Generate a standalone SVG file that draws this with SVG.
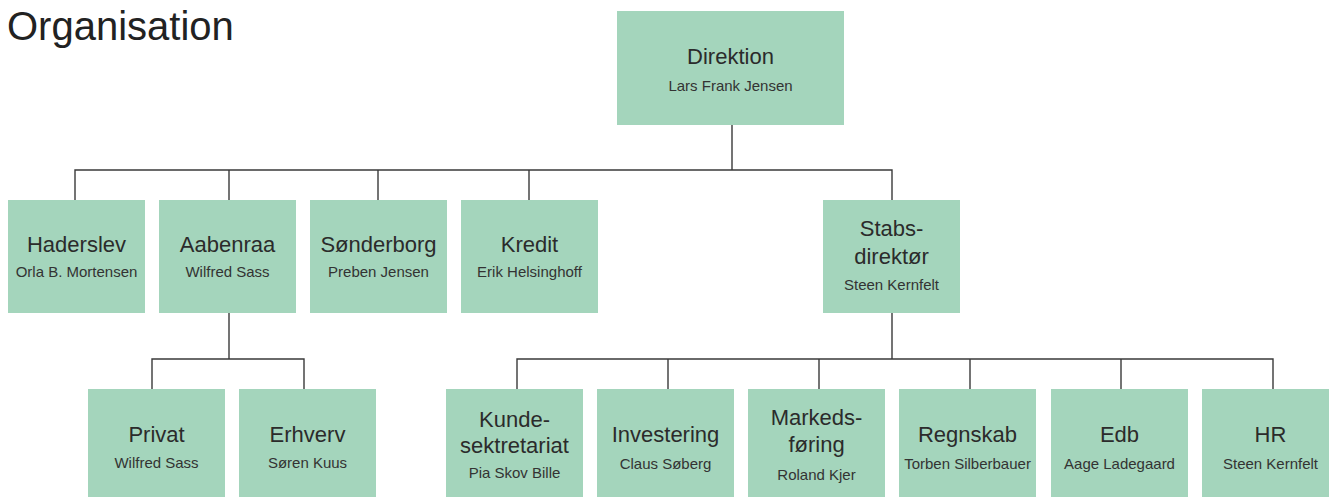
<svg xmlns="http://www.w3.org/2000/svg" width="1329" height="497" viewBox="0 0 1329 497">
<style>
.box{fill:#a4d5bc}
.t{font-family:"Liberation Sans",Arial,sans-serif;font-size:22px;fill:#2b2b2b;text-anchor:middle}
.s{font-family:"Liberation Sans",Arial,sans-serif;font-size:15px;fill:#333;text-anchor:middle}
.title{font-family:"Liberation Sans",Arial,sans-serif;font-size:40px;fill:#222}
.c{fill:none;stroke:#3a3a3a;stroke-width:1.4}
</style>
<rect width="1329" height="497" fill="#fff"/>
<text class="title" x="7" y="40">Organisation</text>
<g id="connectors">
<path class="c" d="M732 125V170M75 200V170H892V200M229 170V200M378 170V200M529 170V200"/>
<path class="c" d="M229 313V359M152 389V359H304V389"/>
<path class="c" d="M892 313V359M517 389V359H1273V389M668 359V389M819 359V389M970 359V389M1121 359V389"/>
</g>
<g id="direktion"><rect class="box" x="617" y="11" width="227" height="114"/><text class="t" x="730.5" y="64">Direktion</text><text class="s" x="730.5" y="91">Lars Frank Jensen</text></g>
<g id="haderslev"><rect class="box" x="8" y="200" width="137" height="113"/><text class="t" x="76.5" y="252">Haderslev</text><text class="s" x="76.5" y="277">Orla B. Mortensen</text></g>
<g id="aabenraa"><rect class="box" x="159" y="200" width="137" height="113"/><text class="t" x="227.5" y="252">Aabenraa</text><text class="s" x="227.5" y="277">Wilfred Sass</text></g>
<g id="sonderborg"><rect class="box" x="310" y="200" width="137" height="113"/><text class="t" x="378.5" y="252">Sønderborg</text><text class="s" x="378.5" y="277">Preben Jensen</text></g>
<g id="kredit"><rect class="box" x="461" y="200" width="137" height="113"/><text class="t" x="529.5" y="252">Kredit</text><text class="s" x="529.5" y="277">Erik Helsinghoff</text></g>
<g id="stabsdirektor"><rect class="box" x="823" y="200" width="137" height="113"/><text class="t" x="891.5" y="236">Stabs-</text><text class="t" x="891.5" y="264">direktør</text><text class="s" x="891.5" y="290">Steen Kernfelt</text></g>
<g id="privat"><rect class="box" x="88" y="389" width="137" height="113"/><text class="t" x="156.5" y="442">Privat</text><text class="s" x="156.5" y="468">Wilfred Sass</text></g>
<g id="erhverv"><rect class="box" x="239" y="389" width="137" height="113"/><text class="t" x="307.5" y="442">Erhverv</text><text class="s" x="307.5" y="468">Søren Kuus</text></g>
<g id="kundesekretariat"><rect class="box" x="446" y="389" width="137" height="113"/><text class="t" x="514.5" y="427">Kunde-</text><text class="t" x="514.5" y="453">sektretariat</text><text class="s" x="514.5" y="478">Pia Skov Bille</text></g>
<g id="investering"><rect class="box" x="597" y="389" width="137" height="113"/><text class="t" x="665.5" y="442">Investering</text><text class="s" x="665.5" y="469">Claus Søberg</text></g>
<g id="markedsforing"><rect class="box" x="748" y="389" width="137" height="113"/><text class="t" x="816.5" y="425">Markeds-</text><text class="t" x="816.5" y="452">føring</text><text class="s" x="816.5" y="480">Roland Kjer</text></g>
<g id="regnskab"><rect class="box" x="899" y="389" width="137" height="113"/><text class="t" x="967.5" y="442">Regnskab</text><text class="s" x="967.5" y="469">Torben Silberbauer</text></g>
<g id="edb"><rect class="box" x="1051" y="389" width="137" height="113"/><text class="t" x="1119.5" y="442">Edb</text><text class="s" x="1119.5" y="469">Aage Ladegaard</text></g>
<g id="hr"><rect class="box" x="1202" y="389" width="137" height="113"/><text class="t" x="1270.5" y="442">HR</text><text class="s" x="1270.5" y="469">Steen Kernfelt</text></g>
</svg>
